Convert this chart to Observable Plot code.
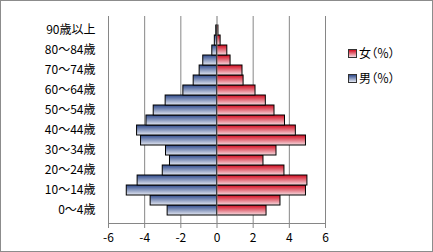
<!DOCTYPE html>
<html>
<head>
<meta charset="utf-8">
<script src="https://cdn.jsdelivr.net/npm/d3@7"></script>
<script src="https://cdn.jsdelivr.net/npm/@observablehq/plot@0.6"></script>
<style>
  html, body { margin: 0; padding: 0; background: #fff; }
  #wrap { position: relative; width: 433px; height: 252px; font-family: "Noto Sans CJK JP", sans-serif; }
  #border { position: absolute; left: 0; top: 0; width: 431px; height: 250px; border: 1px solid #8c8c8c; pointer-events: none; }
  .leg { position: absolute; left: 348px; font-size: 12px; line-height: 14px; color: #000; font-feature-settings: "palt"; white-space: nowrap; }
  .sw { display: inline-block; width: 7px; height: 7px; border: 1px solid #333; vertical-align: middle; margin-right: 2px; position: relative; top: -1px; }
</style>
</head>
<body>
<div id="wrap">
  <div id="chart"></div>
  <div class="leg" style="top:46px;"><span class="sw" style="background:linear-gradient(#d20a1e,#f6dde2);"></span>女（％）</div>
  <div class="leg" style="top:71px;"><span class="sw" style="background:linear-gradient(#304b8c,#e4e8f2);"></span>男（％）</div>
  <div id="border"></div>
</div>
<script>
const ages = ["0～4歳","5～9歳","10～14歳","15～19歳","20～24歳","25～29歳","30～34歳","35～39歳","40～44歳","45～49歳","50～54歳","55～59歳","60～64歳","65～69歳","70～74歳","75～79歳","80～84歳","85～89歳","90歳以上"];
const male = [2.73, 3.67, 4.99, 4.39, 3.0, 2.6, 2.82, 4.2, 4.42, 3.9, 3.5, 2.84, 1.86, 1.29, 0.96, 0.76, 0.26, 0.12, 0.04];
const female = [2.74, 3.51, 4.92, 5.0, 3.73, 2.57, 3.29, 4.92, 4.36, 3.76, 3.18, 2.7, 2.13, 1.47, 1.41, 0.75, 0.57, 0.2, 0.08];
const xTicks = [-6, -4, -2, 0, 2, 4, 6];
const shownAges = ages.filter((d, i) => i % 2 === 0);

const maleData = ages.map((a, i) => ({age: a, v: -male[i]}));
const femaleData = ages.map((a, i) => ({age: a, v: female[i]}));

const svg = Plot.plot({
  width: 433,
  height: 252,
  marginLeft: 108,
  marginRight: 108,
  marginTop: 16,
  marginBottom: 29,
  style: {fontFamily: "'Noto Sans CJK JP', sans-serif", fontSize: "12px", background: "transparent", color: "#000"},
  x: {domain: [-6, 6]},
  y: {domain: ages.slice().reverse(), padding: 0},
  marks: [
    Plot.ruleX(xTicks.filter(d => d !== 0), {stroke: "#868686", strokeWidth: 1}),
    Plot.barX(maleData, {y: "age", x1: 0, x2: "v", fill: "url(#gradBlue)", stroke: "#000", strokeWidth: 1, insetTop: 0, insetBottom: 0}),
    Plot.barX(femaleData, {y: "age", x1: 0, x2: "v", fill: "url(#gradRed)", stroke: "#000", strokeWidth: 1, insetTop: 0, insetBottom: 0}),
    Plot.ruleX([0], {stroke: "#777", strokeWidth: 1}),
    Plot.frame({anchor: "bottom", stroke: "#868686"}),
    Plot.axisX({ticks: xTicks, tickSize: 5, tickPadding: 5, tickFormat: d => String(d), stroke: "#868686", fill: "#000", fontSize: 12, label: null}),
    Plot.axisY({ticks: shownAges, tickSize: 0, tickPadding: 13, fill: "#000", fontSize: 12, label: null})
  ]
});

const defs = d3.select(svg).insert("defs", ":first-child");
const gb = defs.append("linearGradient").attr("id", "gradBlue").attr("x1", 0).attr("y1", 0).attr("x2", 0).attr("y2", 1);
gb.append("stop").attr("offset", "0%").attr("stop-color", "#304b8c");
gb.append("stop").attr("offset", "100%").attr("stop-color", "#e4e8f2");
const gr = defs.append("linearGradient").attr("id", "gradRed").attr("x1", 0).attr("y1", 0).attr("x2", 0).attr("y2", 1);
gr.append("stop").attr("offset", "0%").attr("stop-color", "#d20a1e");
gr.append("stop").attr("offset", "100%").attr("stop-color", "#f6dde2");

document.getElementById("chart").appendChild(svg);
</script>
</body>
</html>
